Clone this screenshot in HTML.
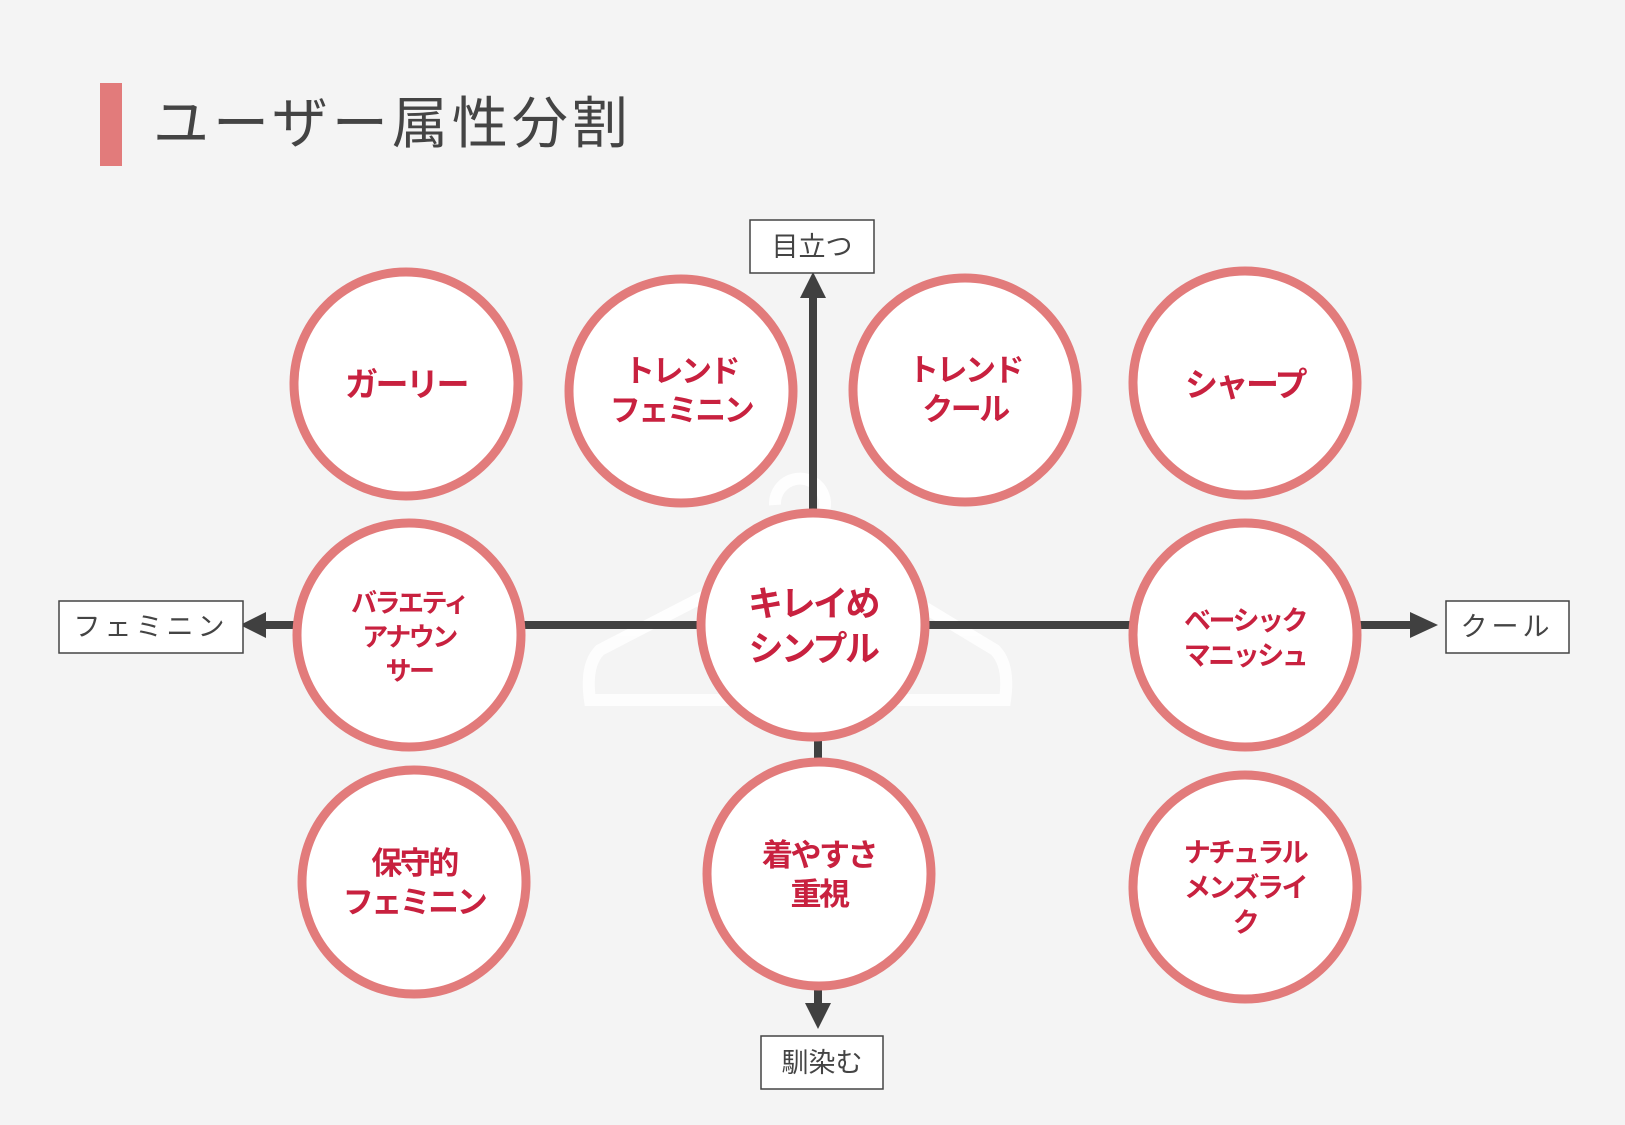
<!DOCTYPE html>
<html><head><meta charset="utf-8"><style>
body{margin:0;width:1625px;height:1125px;background:#f4f4f4;overflow:hidden;font-family:"Liberation Sans","Noto Sans CJK JP",sans-serif}
</style></head><body>
<svg width="1625" height="1125" viewBox="0 0 1625 1125" xmlns="http://www.w3.org/2000/svg" style="position:absolute;left:0;top:0">
<rect x="100" y="83" width="22" height="83" fill="#e27b7b"/>
<text x="153" y="143" font-size="56" fill="#444" letter-spacing="4" font-family="Noto Sans CJK JP, sans-serif">ユーザー属性分割</text>
<g fill="none" stroke="#fff" stroke-width="12" opacity="0.9">
<path d="M775 505 a25 25 0 1 1 38 20 L813 540 L600 650 Q585 665 590 700 L1005 700 Q1010 665 995 650 L813 540"/>
<path d="M620 700 L980 700"/>
</g>
<g stroke="#404040" stroke-width="8" fill="#404040">
<line x1="813" y1="290" x2="813" y2="520"/>
<polygon points="813,272 800,298 826,298" stroke="none"/>
<line x1="818" y1="730" x2="818" y2="1005"/>
<polygon points="818,1029 805,1003 831,1003" stroke="none"/>
<line x1="262" y1="625" x2="1415" y2="625"/>
<polygon points="240,625 266,612 266,638" stroke="none"/>
<polygon points="1438,625 1410,612 1410,638" stroke="none"/>
</g>
<g fill="#fff" stroke="#e27b7b" stroke-width="9">
<circle cx="406" cy="384" r="112"/>
<circle cx="681" cy="391" r="112"/>
<circle cx="965" cy="390" r="112"/>
<circle cx="1245" cy="383" r="112"/>
<circle cx="409" cy="635" r="112"/>
<circle cx="813" cy="625" r="112"/>
<circle cx="1245" cy="635" r="112"/>
<circle cx="414" cy="882" r="112"/>
<circle cx="819" cy="874" r="112"/>
<circle cx="1245" cy="887" r="112"/>
</g>
<g fill="#c8213f" font-weight="bold" text-anchor="middle" letter-spacing="-2.5" font-family="Noto Sans CJK JP, sans-serif">
<text x="406" y="396" font-size="33">ガーリー</text>
<text x="681" y="382" font-size="31">トレンド</text>
<text x="681" y="421" font-size="31">フェミニン</text>
<text x="965" y="381" font-size="31">トレンド</text>
<text x="965" y="420" font-size="31">クール</text>
<text x="1245" y="396" font-size="33">シャープ</text>
<text x="409" y="612" font-size="26">バラエティ</text>
<text x="409" y="646" font-size="26">アナウン</text>
<text x="409" y="680" font-size="26">サー</text>
<text x="813" y="616" font-size="35">キレイめ</text>
<text x="813" y="661" font-size="35">シンプル</text>
<text x="1245" y="630" font-size="27">ベーシック</text>
<text x="1245" y="665" font-size="27">マニッシュ</text>
<text x="414" y="874" font-size="31">保守的</text>
<text x="414" y="913" font-size="31">フェミニン</text>
<text x="819" y="866" font-size="31">着やすさ</text>
<text x="819" y="905" font-size="31">重視</text>
<text x="1245" y="862" font-size="27">ナチュラル</text>
<text x="1245" y="897" font-size="27">メンズライ</text>
<text x="1245" y="932" font-size="27">ク</text>
</g>
<g fill="#fff" stroke="#444" stroke-width="1.5">
<rect x="750" y="220" width="124" height="53"/>
<rect x="59" y="601" width="184" height="52"/>
<rect x="1446" y="601" width="123" height="52"/>
<rect x="761" y="1036" width="122" height="53"/>
</g>
<g fill="#444" font-size="27" text-anchor="middle" font-family="Noto Sans CJK JP, sans-serif">
<text x="812" y="256">目立つ</text>
<text x="151" y="636" letter-spacing="4">フェミニン</text>
<text x="1507" y="636" letter-spacing="4">クール</text>
<text x="822" y="1072">馴染む</text>
</g>
</svg>
</body></html>
